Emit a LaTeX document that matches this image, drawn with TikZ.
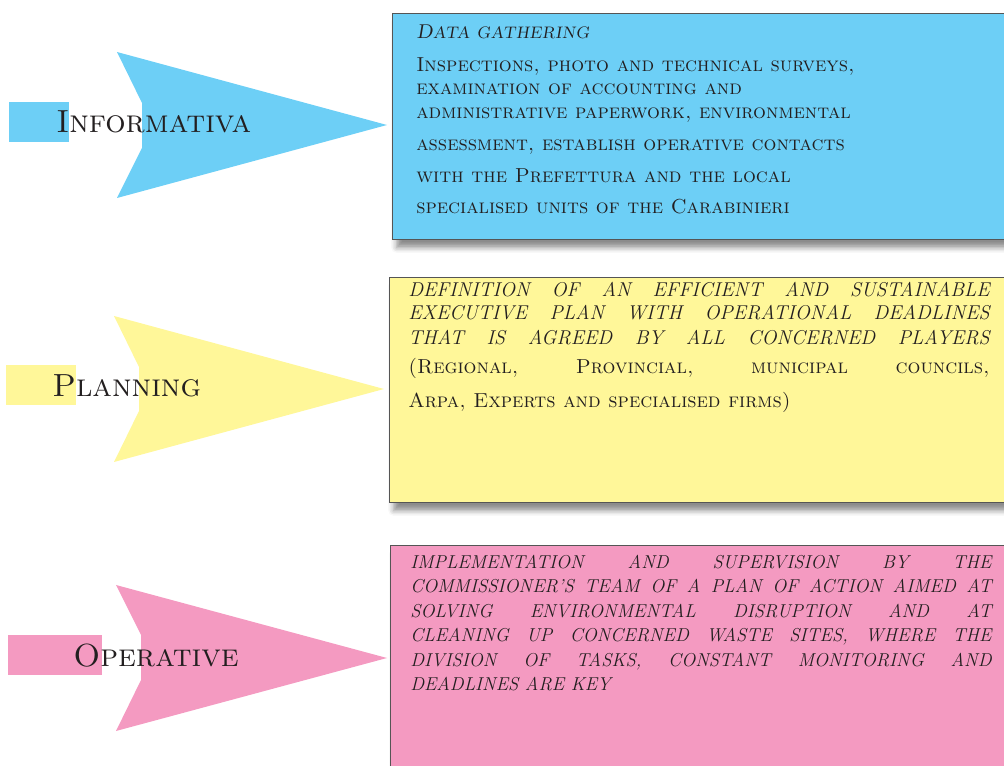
\documentclass[tikz,border=0pt]{standalone}
\usetikzlibrary{shadows.blur}

\definecolor{infoblue}{RGB}{109,207,246}
\definecolor{planyellow}{RGB}{255,247,153}
\definecolor{operpink}{RGB}{244,154,193}
\definecolor{inkgray}{RGB}{35,31,32}
\definecolor{framegray}{RGB}{85,85,85}

\newcommand{\jline}[1]{\makebox[436pt][s]{#1}}
\newcommand{\bodyfont}{\fontsize{14}{18}\selectfont}
\newcommand{\scfont}{\fontsize{15.2}{18}\selectfont\upshape\scshape}

\tikzset{
	tab/.style={fill=#1,inner sep=0pt,minimum height=30pt,anchor=north west},
	phase/.style={anchor=base west,inner sep=0pt,text=inkgray,font=\fontsize{24}{30}\selectfont\scshape},
	panel/.style={draw=framegray,line width=0.8pt,fill=#1,anchor=north west,inner sep=0pt,minimum width=466pt,
		blur shadow={shadow xshift=3pt,shadow yshift=-6pt,shadow blur radius=4pt,shadow opacity=45}},
	blurb/.style={anchor=north west,inner sep=0pt,text=inkgray,align=left,font=\bodyfont},
}

\begin{document}
\begin{tikzpicture}[x=0.75pt,y=-0.75pt]
	\useasboundingbox (0,0) rectangle (1004,766);
	\clip (0,0) rectangle (1004,766);

	\node[tab=infoblue,minimum width=45pt] (t1) at (9,102) {};
	\fill[infoblue] (117,52) -- (142,103) -- (142,148) -- (117,198) -- (387,125) -- cycle;
	\node[phase] (p1) at (56,133) {Informativa};
	\node[panel=infoblue,minimum height=169.5pt] (b1) at (392,13) {};
	\node[blurb,font=\scfont] (x1) at (416,25) {{\fontsize{15}{18}\selectfont\itshape D{\fontsize{12.5}{13}\selectfont ATA GATHERING}}\\[6.75pt]
		Inspections, photo and technical surveys,\\[-0.75pt]
		examination of accounting and\\
		administrative paperwork, environmental\\[6pt]
		assessment, establish operative contacts\\[6pt]
		with the Prefettura and the local\\[5.25pt]
		specialised units of the Carabinieri};

	\node[tab=planyellow,minimum width=52.5pt] (t2) at (6,365) {};
	\fill[planyellow] (114,316) -- (139,367) -- (139,411) -- (114,462) -- (384,389) -- cycle;
	\node[phase] (p2) at (52,397) {Planning};
	\node[panel=planyellow,minimum height=168.75pt] (b2) at (389,277) {};
	\node[blurb,font=\fontsize{15}{18}\selectfont\itshape] (x2) at (408,282) {
		\jline{DEFINITION OF AN EFFICIENT AND SUSTAINABLE}\\[-0.75pt]
		\jline{EXECUTIVE PLAN WITH OPERATIONAL DEADLINES}\\[0.75pt]
		\jline{THAT IS AGREED BY ALL CONCERNED PLAYERS}\\[3.75pt]
		\jline{\scfont (Regional, Provincial, municipal councils,}\\[7.5pt]
		\scfont Arpa, Experts and specialised firms)};

	\node[tab=operpink,minimum width=70pt] (t3) at (8,635) {};
	\fill[operpink] (116,585) -- (141,635) -- (141,680) -- (116,731) -- (387,658) -- cycle;
	\node[phase] (p3) at (73,667) {Operative};
	\node[panel=operpink,minimum height=180pt] (b3) at (390,545) {};
	\node[blurb,font=\fontsize{14}{18.3}\selectfont\itshape] (x3) at (410,555) {
		\jline{IMPLEMENTATION AND SUPERVISION BY THE}\\
		\jline{COMMISSIONER'S TEAM OF A PLAN OF ACTION AIMED AT}\\
		\jline{SOLVING ENVIRONMENTAL DISRUPTION AND AT}\\
		\jline{CLEANING UP CONCERNED WASTE SITES, WHERE THE}\\
		\jline{DIVISION OF TASKS, CONSTANT MONITORING AND}\\
		DEADLINES ARE KEY};
\end{tikzpicture}
\end{document}
